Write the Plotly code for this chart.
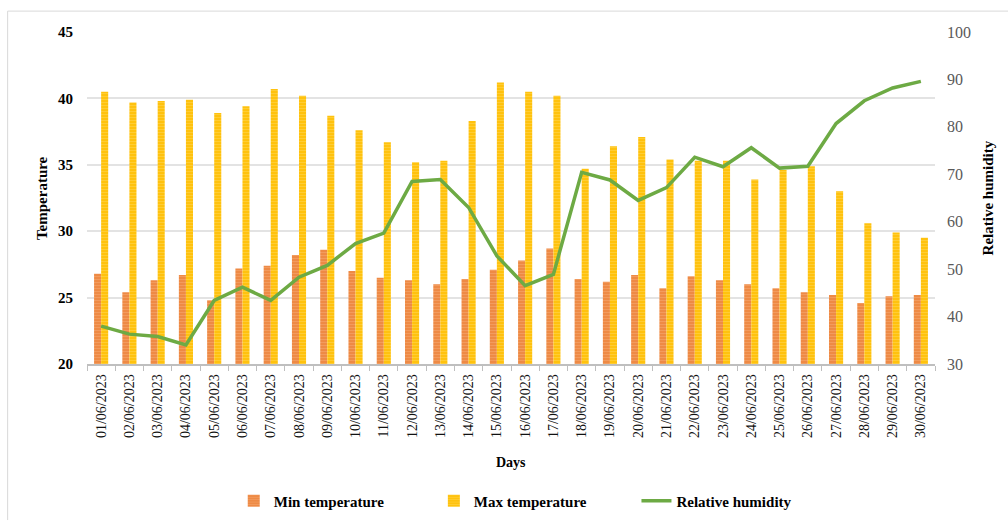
import plotly.graph_objects as go

days = [f"{d:02d}/06/2023" for d in range(1, 31)]
min_temp = [26.8, 25.4, 26.3, 26.7, 24.8, 27.2, 27.4, 28.2, 28.6, 27.0,
            26.5, 26.3, 26.0, 26.4, 27.1, 27.8, 28.7, 26.4, 26.2, 26.7,
            25.7, 26.6, 26.3, 26.0, 25.7, 25.4, 25.2, 24.6, 25.1, 25.2]
max_temp = [40.5, 39.7, 39.8, 39.9, 38.9, 39.4, 40.7, 40.2, 38.7, 37.6,
            36.7, 35.2, 35.3, 38.3, 41.2, 40.5, 40.2, 34.7, 36.4, 37.1,
            35.4, 35.3, 35.3, 33.9, 34.6, 34.9, 33.0, 30.6, 29.9, 29.5]
humidity = [38.0, 36.3, 35.8, 34.0, 43.4, 46.2, 43.4, 48.3, 50.8, 55.4,
            57.6, 68.5, 68.9, 63.0, 52.8, 46.5, 48.9, 70.4, 68.8, 64.5,
            67.2, 73.6, 71.6, 75.6, 71.3, 71.7, 80.7, 85.5, 88.2, 89.6]

FONT = "Liberation Serif"
PAD = "&nbsp;" * 12

fig = go.Figure()
fig.add_trace(go.Bar(
    x=days, y=min_temp, name="<b>Min temperature</b>" + PAD,
    marker=dict(color="#EE8A45", line=dict(width=0),
                pattern=dict(shape="-", fgcolor="#F5AC78", bgcolor="#EE8A45",
                             size=3, solidity=0.35)),
))
fig.add_trace(go.Bar(
    x=days, y=max_temp, name="<b>Max temperature</b>" + PAD,
    marker=dict(color="#FFC20E", line=dict(width=0),
                pattern=dict(shape="-", fgcolor="#FFD75A", bgcolor="#FFC20E",
                             size=3, solidity=0.35)),
))
fig.add_trace(go.Scatter(
    x=days, y=humidity, name="<b>Relative humidity</b>", yaxis="y2",
    mode="lines", line=dict(color="#6DAA44", width=3.5),
))

fig.update_layout(
    width=1008, height=529,
    margin=dict(l=87, r=73, t=32, b=163),
    paper_bgcolor="white", plot_bgcolor="white",
    barmode="group", bargap=0.5, bargroupgap=0.0,
    font=dict(family=FONT, color="#000000"),
    showlegend=True,
    legend=dict(orientation="h", x=0.505, xanchor="center", y=-0.413, yanchor="middle",
                font=dict(family=FONT, size=15, color="#000000"),
                itemwidth=30, tracegroupgap=0, traceorder="normal"),
    xaxis=dict(
        type="category", tickangle=-90, tickson="boundaries",
        ticks="outside", ticklen=5, tickcolor="#BFBFBF",
        showline=True, linecolor="#BFBFBF", linewidth=1.5,
        showgrid=False, ticklabelstandoff=3,
        tickfont=dict(family=FONT, size=14, color="#111111"),
    ),
    yaxis=dict(
        range=[20, 45], dtick=5, showgrid=True, gridcolor="#E3E3E3", gridwidth=1.5,
        zeroline=False, showline=False, ticks="", ticklabelstandoff=13,
        tickfont=dict(family=FONT, size=15, color="#000000", weight="bold"),
    ),
    yaxis2=dict(
        range=[30, 100], dtick=10, overlaying="y", side="right",
        showgrid=False, zeroline=False, showline=False, ticks="", ticklabelstandoff=11,
        tickfont=dict(family=FONT, size=16, color="#595959"),
    ),
    annotations=[
        dict(text="<b>Days</b>", xref="paper", yref="paper", x=0.5, y=-0.296,
             showarrow=False, font=dict(family=FONT, size=14, color="#000000"),
             xanchor="center", yanchor="middle"),
        dict(text="<b>Temperature</b>", xref="paper", yref="paper", x=-0.053, y=0.5,
             showarrow=False, textangle=-90,
             font=dict(family=FONT, size=15, color="#000000"),
             xanchor="center", yanchor="middle"),
        dict(text="<b>Relative humidity</b>", xref="paper", yref="paper", x=1.063, y=0.5,
             showarrow=False, textangle=-90,
             font=dict(family=FONT, size=15, color="#000000"),
             xanchor="center", yanchor="middle"),
    ],
    shapes=[
        dict(type="line", xref="paper", yref="paper", x0=-0.0936, x1=1.09, y0=1.0629, y1=1.0629,
             line=dict(color="#D9D9D9", width=1)),
        dict(type="line", xref="paper", yref="paper", x0=-0.0936, x1=-0.0936, y0=1.0629, y1=-0.47,
             line=dict(color="#D9D9D9", width=1)),
    ],
)

fig.write_html("out.html")
